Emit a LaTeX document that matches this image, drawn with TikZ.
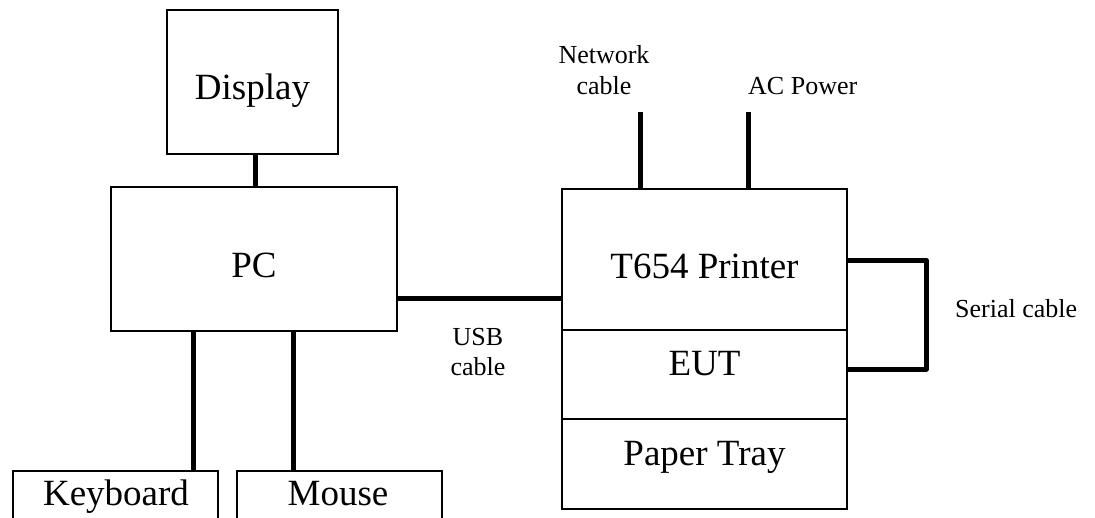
\documentclass[tikz,border=0pt]{standalone}
\usepackage{fontspec}
\setmainfont{Liberation Serif}
\begin{document}
\begin{tikzpicture}[x=1pt,y=-1pt,
  box/.style={draw=black,line width=1.5pt,rectangle,inner sep=0pt,fill=none},
  cable/.style={draw=black,line width=5pt},
  bigtxt/.style={font=\fontsize{37}{44}\selectfont,anchor=base,inner sep=0pt},
  smalltxt/.style={font=\fontsize{26}{31}\selectfont,anchor=base,inner sep=0pt}]
\useasboundingbox (0,0) rectangle (1095,517);
\clip (0,0) rectangle (1095,517);
% boxes
\node[box,minimum width=171pt,minimum height=144pt] (disp) at (252.5,82) {};
\node[box,minimum width=286pt,minimum height=144pt] (pc) at (254,259) {};
\node[box,minimum width=205pt,minimum height=90pt] (kb) at (115.5,516) {};
\node[box,minimum width=205pt,minimum height=90pt] (mouse) at (339.5,516) {};
\node[box,minimum width=285pt,minimum height=141pt] (prn) at (704.5,259.5) {};
\node[box,minimum width=285pt,minimum height=89pt] (eut) at (704.5,374.5) {};
\node[box,minimum width=285pt,minimum height=90pt] (tray) at (704.5,464) {};
% texts
\node[bigtxt] (tdisp) at (252.5,99) {Display};
\node[bigtxt] (tpc) at (254,277) {PC};
\node[bigtxt] (tkb) at (116,505) {Keyboard};
\node[bigtxt] (tmouse) at (338,505) {Mouse};
\node[bigtxt] (tprn) at (704.5,278) {T654 Printer};
\node[bigtxt] (teut) at (704.5,375) {EUT};
\node[bigtxt] (ttray) at (704.5,465) {Paper Tray};
\node[smalltxt] (tnet1) at (604,63) {Network};
\node[smalltxt] (tnet2) at (604,94) {cable};
\node[smalltxt,anchor=base west] (tac) at (748,94) {AC Power};
\node[smalltxt,anchor=base west] (tser) at (955,317) {Serial cable};
\node[smalltxt] (tusb1) at (478,345) {USB};
\node[smalltxt] (tusb2) at (478,375) {cable};
% free ends
\coordinate (net) at (640,112);
\coordinate (ac) at (748,112);
\coordinate (sertop) at (926,260);
\coordinate (serbot) at (926,369);
% connectors
\draw[cable] (disp.south -| 255,0) -- (pc.north -| 255,0);
\draw[cable] (pc.south -| 193,0) -- (kb.north -| 193,0);
\draw[cable] (pc.south -| 293,0) -- (mouse.north -| 293,0);
\draw[cable] (pc.east |- 0,298) -- (prn.west |- 0,298);
\draw[cable] (net) -- (net |- prn.north);
\draw[cable] (ac) -- (ac |- prn.north);
\draw[cable,line join=round] (prn.east |- sertop) -- (sertop) -- (serbot) -- (eut.east |- serbot);
\end{tikzpicture}
\end{document}
